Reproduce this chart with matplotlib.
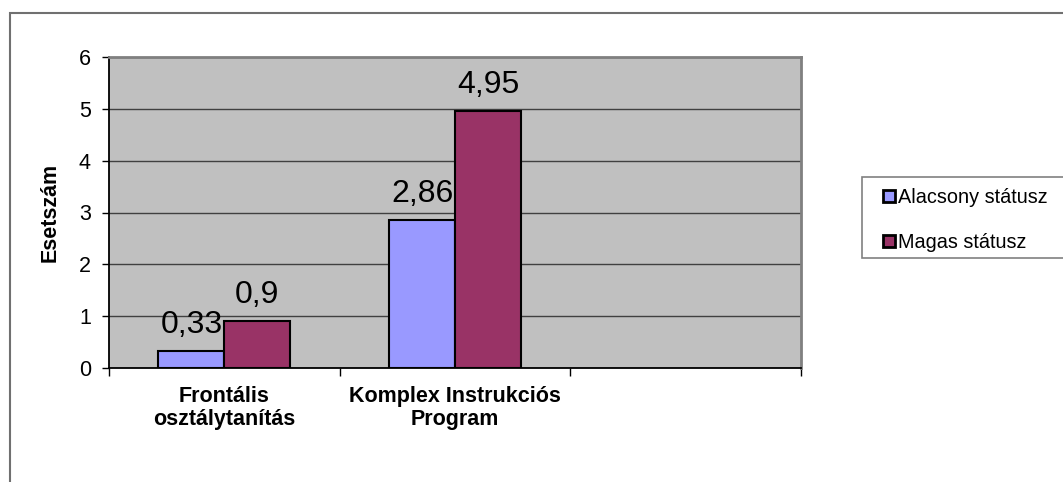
import matplotlib

matplotlib.use('Agg')
import matplotlib.pyplot as plt
from matplotlib.patches import Rectangle, Patch

plt.rcParams['font.family'] = ['Liberation Sans', 'DejaVu Sans']

categories = ['Frontális\nosztálytanítás', 'Komplex Instrukciós\nProgram']
series_names = ['Alacsony státusz', 'Magas státusz']
low_status = [0.33, 2.86]
high_status = [0.9, 4.95]
value_labels_low = ['0,33', '2,86']
value_labels_high = ['0,9', '4,95']
n_slots = 3  # third category slot is left empty

colors = ['#9999FF', '#993366']

W, H = 1063, 482
fig = plt.figure(figsize=(W / 100, H / 100), dpi=100)

# chart area border (runs off the right and bottom edges)
fig.patches.append(Rectangle((10 / W, -0.2), 1.2, 1.2 - 13 / H,
                             transform=fig.transFigure, fill=False,
                             edgecolor='#707070', linewidth=1.5))

left, right, top, bottom = 109, 801, 57, 368
ax = fig.add_axes([left / W, (H - bottom) / H, (right - left) / W, (bottom - top) / H])
ax.set_facecolor('#C0C0C0')

w = 1 / 3.5
xs = [i + 0.5 for i in range(len(categories))]
bars_low = ax.bar([x - w / 2 for x in xs], low_status, width=w, color=colors[0],
                  edgecolor='black', linewidth=1.5, zorder=3)
bars_high = ax.bar([x + w / 2 for x in xs], high_status, width=w, color=colors[1],
                   edgecolor='black', linewidth=1.5, zorder=3)

for bars, labels in [(bars_low, value_labels_low), (bars_high, value_labels_high)]:
    for b, lab in zip(bars, labels):
        ax.annotate(lab, (b.get_x() + b.get_width() / 2, b.get_height()),
                    xytext=(0, 13), textcoords='offset points',
                    ha='center', va='baseline', fontsize=23, zorder=4)

ax.set_xlim(0, n_slots)
ax.set_ylim(0, 6)
ax.set_yticks(range(0, 7))
ax.yaxis.grid(True, color='#404040', linewidth=1)
ax.set_axisbelow(True)
ax.tick_params(axis='y', direction='out', length=5, width=1, pad=8, labelsize=15.5)

ax.set_xticks(xs)
ax.set_xticklabels(categories, fontweight='bold', fontsize=15.5, linespacing=1.1)
ax.set_xticks(range(0, n_slots + 1), minor=True)
ax.tick_params(axis='x', which='major', length=0, pad=13)
ax.tick_params(axis='x', which='minor', direction='out', length=6, width=1)

ax.set_ylabel('Esetszám', fontweight='bold', fontsize=15.5, labelpad=13)

for s in ['top', 'right']:
    ax.spines[s].set_color('#808080')
    ax.spines[s].set_linewidth(2)
for s in ['left', 'bottom']:
    ax.spines[s].set_color('black')
    ax.spines[s].set_linewidth(1.3)

# legend box
fig.patches.append(Rectangle((862 / W, (H - 258) / H), 0.5, 81 / H,
                             transform=fig.transFigure, facecolor='white',
                             edgecolor='#808080', linewidth=1.2))
handles = [Patch(facecolor=c, edgecolor='black', linewidth=2) for c in colors]
fig.legend(handles, series_names, loc='upper left',
           bbox_to_anchor=(883 / W, (H - 188) / H), frameon=False,
           fontsize=14.3, handlelength=0.6, handleheight=0.6,
           handletextpad=0.15, labelspacing=1.3, borderaxespad=0, borderpad=0)

fig.savefig('out.png', dpi=100)
